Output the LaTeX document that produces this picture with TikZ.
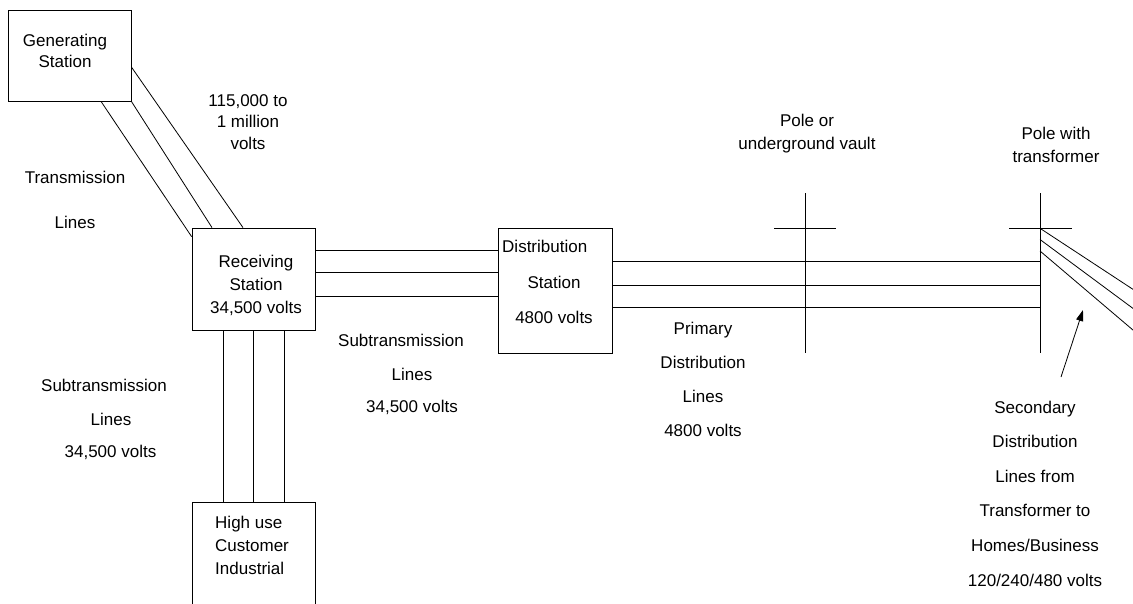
\documentclass[tikz,border=0pt]{standalone}
\usepackage{fontspec}
\setmainfont{Liberation Sans}
\usetikzlibrary{arrows.meta,calc}
\begin{document}
\begin{tikzpicture}[x=1pt,y=-1pt,
  wire/.style={line width=0.8pt},
  box/.style={draw,line width=0.8pt,inner sep=0pt,minimum width=#1},
  lbl/.style={inner sep=0pt,font=\fontsize{17}{21}\selectfont,align=center},
  lbls/.style={inner sep=0pt,font=\fontsize{17}{#1}\selectfont,align=center}]
\useasboundingbox (0,0) rectangle (1133,603);
\clip (0,0) rectangle (1133,603);
% boxes
\node[box=123pt,minimum height=91pt] (gen) at (69.5,55.5) {};
\node[box=123pt,minimum height=102pt] (recv) at (253.5,279) {};
\node[box=114pt,minimum height=125pt] (dist) at (555,290.5) {};
\node[box=123pt,minimum height=140pt] (high) at (253.5,572) {};
% poles
\coordinate (p1top) at (805,193); \coordinate (p1bot) at (805,353);
\coordinate (p1l) at (774,228); \coordinate (p1r) at (836,228);
\coordinate (p2top) at (1040,193); \coordinate (p2bot) at (1040,353);
\coordinate (p2l) at (1009,228); \coordinate (p2r) at (1072,228);
\draw[wire] (p1top) -- (p1bot);
\draw[wire] (p1l) -- (p1r);
\draw[wire] (p2top) -- (p2bot);
\draw[wire] (p2l) -- (p2r);
% transmission lines
\draw[wire] ([yshift=-11.5pt]gen.east) -- ([xshift=-10.5pt]recv.north);
\draw[wire] (gen.south east) -- ([xshift=-41.5pt]recv.north);
\draw[wire] ([xshift=31.5pt]gen.south) -- ([yshift=-9pt]recv.north west);
% subtransmission to distribution
\foreach \y in {250.7,272.7,296} {
  \draw[wire] (recv.east |- {(0,\y)}) -- (dist.west |- {(0,\y)});
}
% subtransmission to high use
\foreach \x in {223,253.5,284} {
  \draw[wire] (recv.south -| {(\x,0)}) -- (high.north -| {(\x,0)});
}
% primary distribution
\foreach \y in {261.7,285,307.7} {
  \draw[wire] (dist.east |- {(0,\y)}) -- (p2top |- {(0,\y)});
}
% secondary lines
\coordinate (s1) at (1040,228.3); \coordinate (s1e) at (1150,300.5);
\coordinate (s2) at (1040,239.5); \coordinate (s2e) at (1150,321);
\coordinate (s3) at (1040,251); \coordinate (s3e) at (1150,344.5);
\draw[wire] (s1) -- (s1e);
\draw[wire] (s2) -- (s2e);
\draw[wire] (s3) -- (s3e);
% arrow
\coordinate (atail) at (1061,377); \coordinate (ahead) at (1083,310);
\draw[wire,-{Triangle[length=11pt,width=7pt]}] (atail) -- (ahead);
% texts
\node[lbl] (gentxt) at (65,50.5) {Generating\\Station};
\node[lbls=21.5] (hv) at (248,122) {115,000 to\\1 million\\volts};
\node[lbls=45] (trtxt) at (75,199.5) {Transmission\\Lines};
\node[lbls=22.7] (recvtxt) at (256,285.5) {Receiving\\Station\\34,500 volts};
\node[lbl,anchor=west] (disttxt1) at (502,246) {Distribution};
\node[lbl] (disttxt2) at (554,282) {Station};
\node[lbl] (disttxt3) at (554,317) {4800 volts};
\node[lbl] (ms1) at (401,340) {Subtransmission};
\node[lbl] (ms2) at (412,374) {Lines};
\node[lbl] (ms3) at (412,407) {34,500 volts};
\node[lbl] (ls1) at (104,385) {Subtransmission};
\node[lbl] (ls2) at (111,419) {Lines};
\node[lbl] (ls3) at (110.5,452) {34,500 volts};
\node[lbls=34] (prim) at (703,379) {Primary\\Distribution\\Lines\\4800 volts};
\node[lbls=23] (pole1txt) at (807,133.5) {Pole or\\underground vault};
\node[lbls=23] (pole2txt) at (1056,144.5) {Pole with\\transformer};
\node[lbls=34.6] (sec) at (1035,493.5) {Secondary\\Distribution\\Lines from\\Transformer to\\Homes/Business\\120/240/480 volts};
\node[lbls=23,align=left,anchor=west] (hightxt) at (215,545) {High use\\Customer\\Industrial};
\end{tikzpicture}
\end{document}
